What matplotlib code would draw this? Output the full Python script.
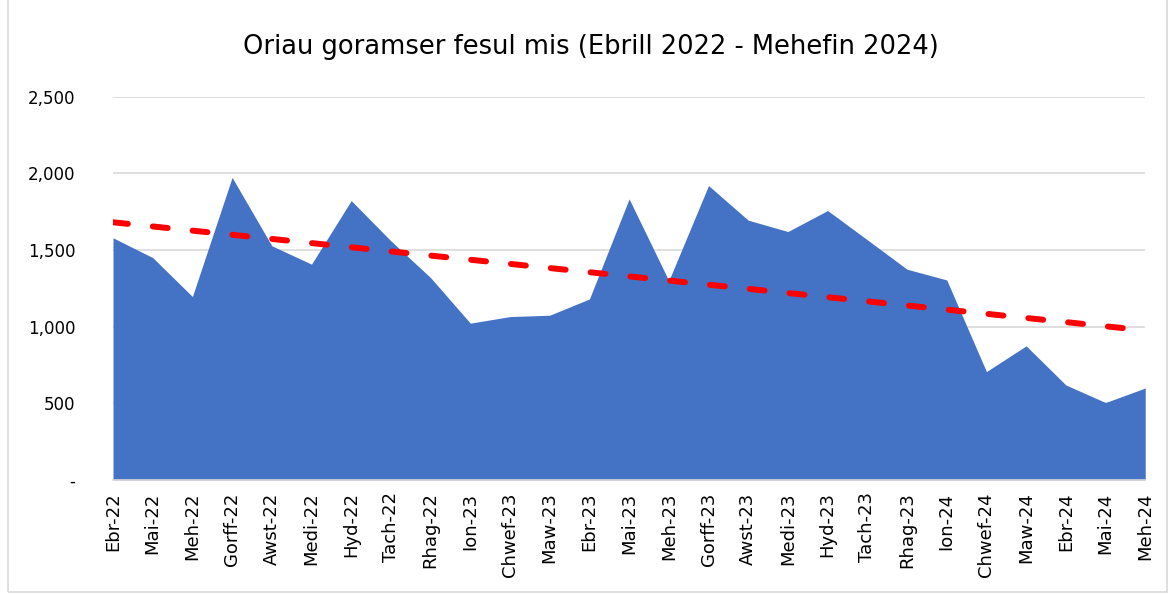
import matplotlib
matplotlib.use('Agg')
import numpy as np
import matplotlib.pyplot as plt
from matplotlib.ticker import FuncFormatter

months = ['Ebr-22', 'Mai-22', 'Meh-22', 'Gorff-22', 'Awst-22', 'Medi-22', 'Hyd-22',
          'Tach-22', 'Rhag-22', 'Ion-23', 'Chwef-23', 'Maw-23', 'Ebr-23', 'Mai-23',
          'Meh-23', 'Gorff-23', 'Awst-23', 'Medi-23', 'Hyd-23', 'Tach-23', 'Rhag-23',
          'Ion-24', 'Chwef-24', 'Maw-24', 'Ebr-24', 'Mai-24', 'Meh-24']
hours = [1580, 1451, 1197, 1974, 1528, 1408, 1823, 1560, 1320, 1023, 1066, 1075,
         1181, 1834, 1300, 1921, 1695, 1621, 1758, 1567, 1375, 1305, 707, 875,
         620, 505, 600]
yticks = [0, 500, 1000, 1500, 2000, 2500]

x = np.arange(len(months))
# linear trendline like excel
m, c = np.polyfit(x, hours, 1)
trend = m * x + c

fig = plt.figure(figsize=(11.71, 5.94), dpi=100)
ax = fig.add_axes([0.0965, 0.192, 0.8815, 0.645])

ax.fill_between(x, hours, 0, color='#4472C4', linewidth=0, zorder=2)
ax.plot(x, trend, color='#FF0000', linewidth=4.3, linestyle=(0, (2.5, 4.2)),
        dash_capstyle='round', zorder=3)

ax.set_xlim(0, len(months) - 1)
ax.set_ylim(0, 2500)
ax.set_yticks(yticks)
ax.yaxis.set_major_formatter(FuncFormatter(lambda v, p: '-' if v == 0 else f'{int(v):,}'))
ax.set_xticks(x)
ax.set_xticklabels(months, rotation=90)
ax.tick_params(axis='both', length=0, colors='black')
ax.tick_params(axis='y', pad=27, labelsize=12)
ax.tick_params(axis='x', pad=9, labelsize=13)

ax.grid(axis='y', color='#D9D9D9', linewidth=1.2, zorder=0)
ax.set_axisbelow(True)
for s in ['top', 'right', 'left']:
    ax.spines[s].set_visible(False)
ax.spines['bottom'].set_color('#D9D9D9')
ax.spines['bottom'].set_linewidth(1.2)

fig.text(0.505, 0.921, 'Oriau goramser fesul mis (Ebrill 2022 - Mehefin 2024)',
         ha='center', va='center', fontsize=18.5)

# chart border
fig.add_artist(plt.Rectangle((0.007, 0.003), 0.99, 1.1, transform=fig.transFigure,
                             fill=False, edgecolor='#D9D9D9', linewidth=1.2))

plt.savefig('out.png', dpi=100)
